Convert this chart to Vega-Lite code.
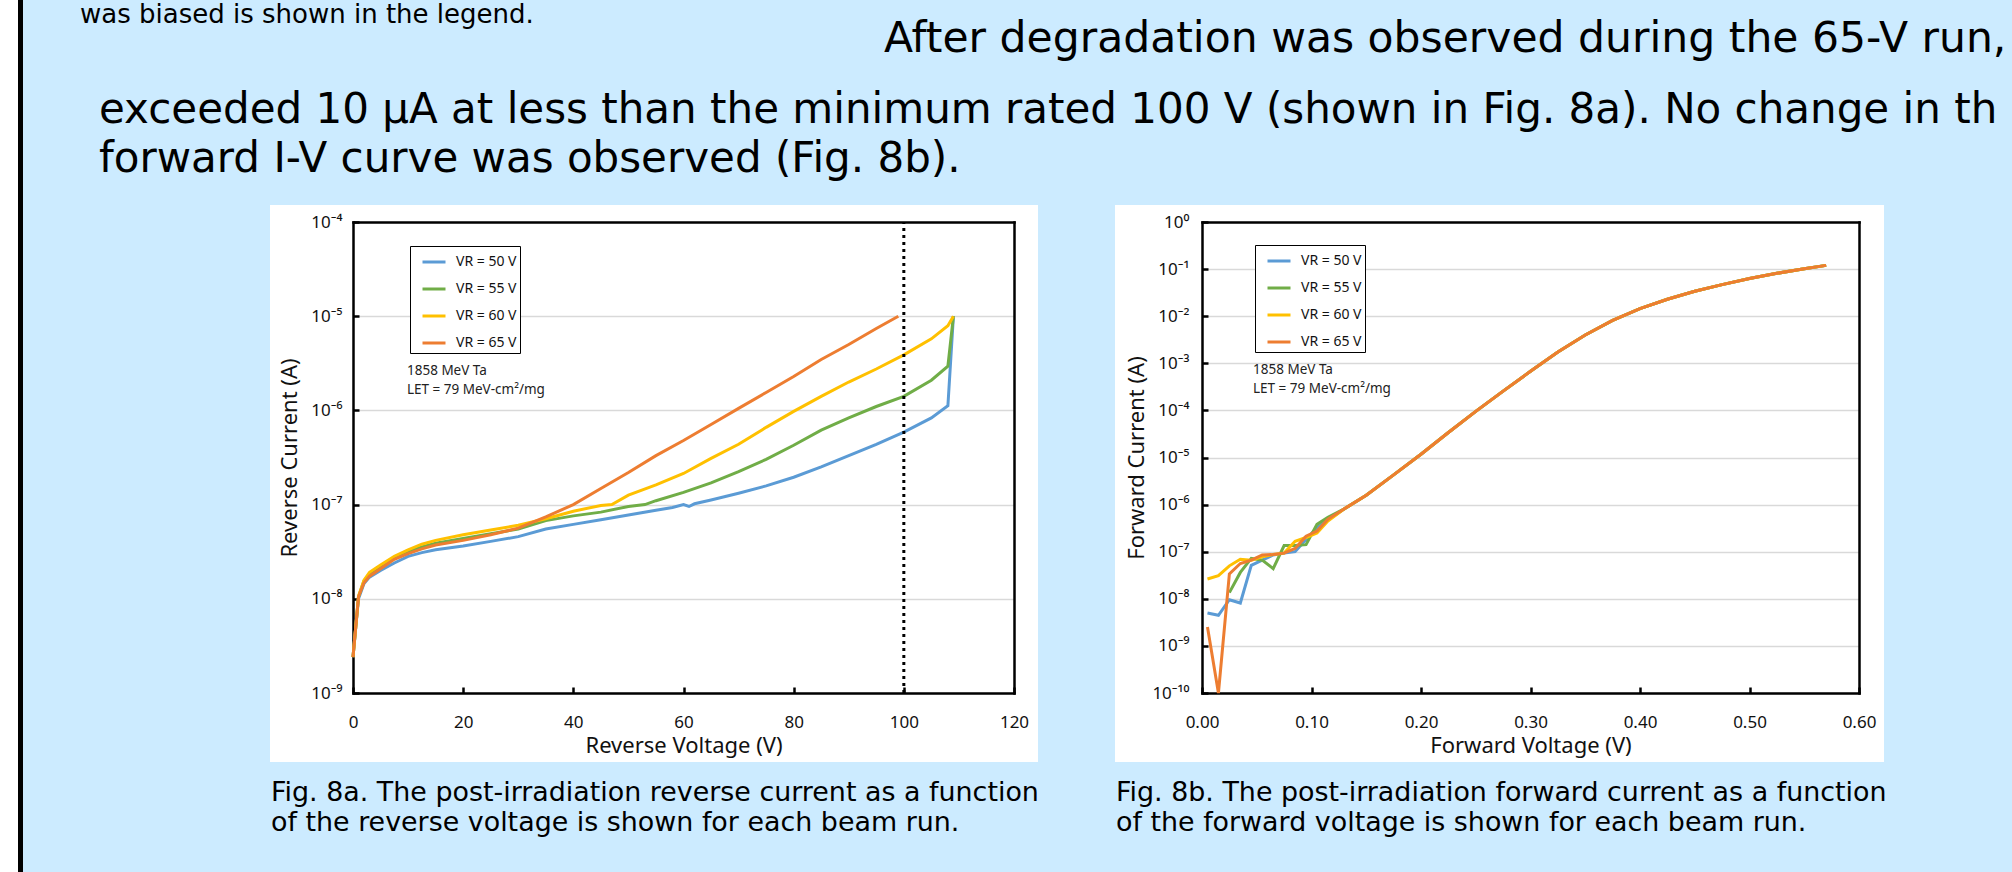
{
 "$schema": "https://vega.github.io/schema/vega-lite/v6.json",
 "padding": 0,
 "background": "#CCEBFF",
 "spacing": 0,
 "bounds": "flush",
 "resolve": {"scale": {"color": "independent"}, "legend": {"color": "independent"}},
 "config": {"view": {"stroke": null}},
 "datasets": {
  "rev": [
   {"s":"50","v":0,"i":2.4e-9},{"s":"50","v":0.5,"i":5.0e-9},{"s":"50","v":1,"i":1.0e-8},{"s":"50","v":2,"i":1.45e-8},{"s":"50","v":3,"i":1.7e-8},{"s":"50","v":5,"i":2.0e-8},{"s":"50","v":7.5,"i":2.4e-8},{"s":"50","v":10,"i":2.82e-8},{"s":"50","v":12.5,"i":3.09e-8},{"s":"50","v":15,"i":3.31e-8},{"s":"50","v":20,"i":3.63e-8},{"s":"50","v":25,"i":4.07e-8},{"s":"50","v":30,"i":4.57e-8},{"s":"50","v":35,"i":5.5e-8},{"s":"50","v":40,"i":6.17e-8},{"s":"50","v":45,"i":6.92e-8},{"s":"50","v":50,"i":7.76e-8},{"s":"50","v":55,"i":8.71e-8},{"s":"50","v":58,"i":9.33e-8},{"s":"50","v":60,"i":1.0e-7},{"s":"50","v":61,"i":9.55e-8},{"s":"50","v":62,"i":1.02e-7},{"s":"50","v":65,"i":1.12e-7},{"s":"50","v":70,"i":1.32e-7},{"s":"50","v":75,"i":1.58e-7},{"s":"50","v":80,"i":1.95e-7},{"s":"50","v":85,"i":2.51e-7},{"s":"50","v":90,"i":3.31e-7},{"s":"50","v":95,"i":4.37e-7},{"s":"50","v":100,"i":5.89e-7},{"s":"50","v":105,"i":8.32e-7},{"s":"50","v":108,"i":1.12e-6},{"s":"50","v":109,"i":1.0e-5},
   {"s":"55","v":0,"i":2.4e-9},{"s":"55","v":0.5,"i":5.0e-9},{"s":"55","v":1,"i":1.05e-8},{"s":"55","v":2,"i":1.55e-8},{"s":"55","v":3,"i":1.82e-8},{"s":"55","v":5,"i":2.19e-8},{"s":"55","v":7.5,"i":2.69e-8},{"s":"55","v":10,"i":3.16e-8},{"s":"55","v":12.5,"i":3.55e-8},{"s":"55","v":15,"i":3.89e-8},{"s":"55","v":20,"i":4.37e-8},{"s":"55","v":25,"i":4.9e-8},{"s":"55","v":30,"i":5.5e-8},{"s":"55","v":35,"i":6.76e-8},{"s":"55","v":40,"i":7.59e-8},{"s":"55","v":45,"i":8.32e-8},{"s":"55","v":50,"i":9.55e-8},{"s":"55","v":53,"i":1.0e-7},{"s":"55","v":55,"i":1.1e-7},{"s":"55","v":60,"i":1.35e-7},{"s":"55","v":65,"i":1.7e-7},{"s":"55","v":70,"i":2.24e-7},{"s":"55","v":75,"i":3.02e-7},{"s":"55","v":80,"i":4.27e-7},{"s":"55","v":85,"i":6.17e-7},{"s":"55","v":90,"i":8.32e-7},{"s":"55","v":95,"i":1.1e-6},{"s":"55","v":100,"i":1.41e-6},{"s":"55","v":105,"i":2.09e-6},{"s":"55","v":108,"i":2.95e-6},{"s":"55","v":109,"i":1.0e-5},
   {"s":"60","v":0,"i":2.4e-9},{"s":"60","v":0.5,"i":5.0e-9},{"s":"60","v":1,"i":1.07e-8},{"s":"60","v":2,"i":1.58e-8},{"s":"60","v":3,"i":1.91e-8},{"s":"60","v":5,"i":2.29e-8},{"s":"60","v":7.5,"i":2.82e-8},{"s":"60","v":10,"i":3.31e-8},{"s":"60","v":12.5,"i":3.8e-8},{"s":"60","v":15,"i":4.17e-8},{"s":"60","v":20,"i":4.79e-8},{"s":"60","v":25,"i":5.37e-8},{"s":"60","v":30,"i":6.03e-8},{"s":"60","v":35,"i":7.08e-8},{"s":"60","v":40,"i":8.51e-8},{"s":"60","v":45,"i":9.8e-8},{"s":"60","v":47,"i":1.0e-7},{"s":"60","v":50,"i":1.26e-7},{"s":"60","v":55,"i":1.62e-7},{"s":"60","v":60,"i":2.14e-7},{"s":"60","v":65,"i":3.09e-7},{"s":"60","v":70,"i":4.37e-7},{"s":"60","v":75,"i":6.61e-7},{"s":"60","v":80,"i":9.77e-7},{"s":"60","v":85,"i":1.41e-6},{"s":"60","v":90,"i":2.0e-6},{"s":"60","v":95,"i":2.75e-6},{"s":"60","v":100,"i":3.89e-6},{"s":"60","v":105,"i":5.75e-6},{"s":"60","v":108,"i":7.94e-6},{"s":"60","v":109,"i":1.0e-5},
   {"s":"65","v":0,"i":2.4e-9},{"s":"65","v":0.5,"i":5.0e-9},{"s":"65","v":1,"i":1.05e-8},{"s":"65","v":2,"i":1.48e-8},{"s":"65","v":3,"i":1.74e-8},{"s":"65","v":5,"i":2.09e-8},{"s":"65","v":7.5,"i":2.63e-8},{"s":"65","v":10,"i":3.02e-8},{"s":"65","v":12.5,"i":3.39e-8},{"s":"65","v":15,"i":3.72e-8},{"s":"65","v":20,"i":4.17e-8},{"s":"65","v":25,"i":4.79e-8},{"s":"65","v":30,"i":5.62e-8},{"s":"65","v":35,"i":7.41e-8},{"s":"65","v":40,"i":1.0e-7},{"s":"65","v":45,"i":1.48e-7},{"s":"65","v":50,"i":2.19e-7},{"s":"65","v":55,"i":3.31e-7},{"s":"65","v":60,"i":4.79e-7},{"s":"65","v":65,"i":7.08e-7},{"s":"65","v":70,"i":1.05e-6},{"s":"65","v":75,"i":1.55e-6},{"s":"65","v":80,"i":2.29e-6},{"s":"65","v":85,"i":3.47e-6},{"s":"65","v":90,"i":5.01e-6},{"s":"65","v":95,"i":7.41e-6},{"s":"65","v":99,"i":1.0e-5}
  ],
  "fwd": [
   {"s":"50","v":0.005,"i":5.0e-9},{"s":"50","v":0.015,"i":4.47e-9},{"s":"50","v":0.025,"i":9.55e-9},{"s":"50","v":0.035,"i":8.13e-9},{"s":"50","v":0.045,"i":5.13e-8},{"s":"50","v":0.055,"i":6.61e-8},{"s":"50","v":0.065,"i":8.51e-8},{"s":"50","v":0.075,"i":9.33e-8},{"s":"50","v":0.085,"i":1.0e-7},{"s":"50","v":0.095,"i":1.82e-7},{"s":"50","v":0.105,"i":3.24e-7},{"s":"50","v":0.115,"i":4.68e-7},
   {"s":"50","v":0.13,"i":8.13e-7},{"s":"50","v":0.15,"i":1.58e-6},{"s":"50","v":0.175,"i":4.27e-6},{"s":"50","v":0.2,"i":1.17e-5},{"s":"50","v":0.225,"i":3.39e-5},{"s":"50","v":0.25,"i":9.55e-5},{"s":"50","v":0.275,"i":2.57e-4},{"s":"50","v":0.3,"i":6.76e-4},{"s":"50","v":0.325,"i":1.74e-3},{"s":"50","v":0.35,"i":3.98e-3},{"s":"50","v":0.375,"i":8.13e-3},{"s":"50","v":0.4,"i":1.45e-2},{"s":"50","v":0.425,"i":2.29e-2},{"s":"50","v":0.45,"i":3.39e-2},{"s":"50","v":0.475,"i":4.68e-2},{"s":"50","v":0.5,"i":6.31e-2},{"s":"50","v":0.525,"i":8.13e-2},{"s":"50","v":0.55,"i":0.102},{"s":"50","v":0.57,"i":0.12},
   {"s":"55","v":0.025,"i":1.35e-8},{"s":"55","v":0.035,"i":3.63e-8},{"s":"55","v":0.045,"i":7.24e-8},{"s":"55","v":0.055,"i":6.61e-8},{"s":"55","v":0.065,"i":4.37e-8},{"s":"55","v":0.075,"i":1.35e-7},{"s":"55","v":0.085,"i":1.35e-7},{"s":"55","v":0.095,"i":1.41e-7},{"s":"55","v":0.105,"i":3.8e-7},{"s":"55","v":0.115,"i":5.37e-7},
   {"s":"55","v":0.13,"i":8.13e-7},{"s":"55","v":0.15,"i":1.58e-6},{"s":"55","v":0.175,"i":4.27e-6},{"s":"55","v":0.2,"i":1.17e-5},{"s":"55","v":0.225,"i":3.39e-5},{"s":"55","v":0.25,"i":9.55e-5},{"s":"55","v":0.275,"i":2.57e-4},{"s":"55","v":0.3,"i":6.76e-4},{"s":"55","v":0.325,"i":1.74e-3},{"s":"55","v":0.35,"i":3.98e-3},{"s":"55","v":0.375,"i":8.13e-3},{"s":"55","v":0.4,"i":1.45e-2},{"s":"55","v":0.425,"i":2.29e-2},{"s":"55","v":0.45,"i":3.39e-2},{"s":"55","v":0.475,"i":4.68e-2},{"s":"55","v":0.5,"i":6.31e-2},{"s":"55","v":0.525,"i":8.13e-2},{"s":"55","v":0.55,"i":0.102},{"s":"55","v":0.57,"i":0.12},
   {"s":"60","v":0.005,"i":2.63e-8},{"s":"60","v":0.015,"i":3.09e-8},{"s":"60","v":0.025,"i":5.01e-8},{"s":"60","v":0.035,"i":6.92e-8},{"s":"60","v":0.045,"i":6.61e-8},{"s":"60","v":0.055,"i":7.76e-8},{"s":"60","v":0.065,"i":8.71e-8},{"s":"60","v":0.075,"i":9.33e-8},{"s":"60","v":0.085,"i":1.66e-7},{"s":"60","v":0.095,"i":2.0e-7},{"s":"60","v":0.105,"i":2.51e-7},{"s":"60","v":0.115,"i":4.47e-7},
   {"s":"60","v":0.13,"i":8.13e-7},{"s":"60","v":0.15,"i":1.58e-6},{"s":"60","v":0.175,"i":4.27e-6},{"s":"60","v":0.2,"i":1.17e-5},{"s":"60","v":0.225,"i":3.39e-5},{"s":"60","v":0.25,"i":9.55e-5},{"s":"60","v":0.275,"i":2.57e-4},{"s":"60","v":0.3,"i":6.76e-4},{"s":"60","v":0.325,"i":1.74e-3},{"s":"60","v":0.35,"i":3.98e-3},{"s":"60","v":0.375,"i":8.13e-3},{"s":"60","v":0.4,"i":1.45e-2},{"s":"60","v":0.425,"i":2.29e-2},{"s":"60","v":0.45,"i":3.39e-2},{"s":"60","v":0.475,"i":4.68e-2},{"s":"60","v":0.5,"i":6.31e-2},{"s":"60","v":0.525,"i":8.13e-2},{"s":"60","v":0.55,"i":0.102},{"s":"60","v":0.57,"i":0.12},
   {"s":"65","v":0.005,"i":2.51e-9},{"s":"65","v":0.015,"i":1.0e-10},{"s":"65","v":0.025,"i":3.39e-8},{"s":"65","v":0.035,"i":5.62e-8},{"s":"65","v":0.045,"i":6.61e-8},{"s":"65","v":0.055,"i":8.51e-8},{"s":"65","v":0.065,"i":8.71e-8},{"s":"65","v":0.075,"i":9.33e-8},{"s":"65","v":0.085,"i":1.17e-7},{"s":"65","v":0.095,"i":2.14e-7},{"s":"65","v":0.105,"i":2.75e-7},{"s":"65","v":0.115,"i":4.9e-7},
   {"s":"65","v":0.13,"i":8.13e-7},{"s":"65","v":0.15,"i":1.58e-6},{"s":"65","v":0.175,"i":4.27e-6},{"s":"65","v":0.2,"i":1.17e-5},{"s":"65","v":0.225,"i":3.39e-5},{"s":"65","v":0.25,"i":9.55e-5},{"s":"65","v":0.275,"i":2.57e-4},{"s":"65","v":0.3,"i":6.76e-4},{"s":"65","v":0.325,"i":1.74e-3},{"s":"65","v":0.35,"i":3.98e-3},{"s":"65","v":0.375,"i":8.13e-3},{"s":"65","v":0.4,"i":1.45e-2},{"s":"65","v":0.425,"i":2.29e-2},{"s":"65","v":0.45,"i":3.39e-2},{"s":"65","v":0.475,"i":4.68e-2},{"s":"65","v":0.5,"i":6.31e-2},{"s":"65","v":0.525,"i":8.13e-2},{"s":"65","v":0.55,"i":0.102},{"s":"65","v":0.57,"i":0.12}
  ]
 },
 "hconcat": [
  {
   "width": 18, "height": 872,
   "view": {"fill": "#ffffff"},
   "data": {"values": []},
   "mark": "point",
   "title": {"text": "was biased is shown in the legend.", "orient": "bottom", "anchor": "start", "frame": "group", "baseline": "alphabetic", "offset": -849, "dx": 80, "font": "DejaVu Sans", "fontSize": 26, "fontWeight": "normal", "color": "#000000"}
  },
  {
   "width": 5, "height": 872,
   "view": {"fill": "#000000"},
   "data": {"values": []},
   "mark": "point",
   "title": {"text": ["exceeded 10 µA at less than the minimum rated 100 V (shown in Fig. 8a). No change in th", "forward I-V curve was observed (Fig. 8b)."], "orient": "bottom", "anchor": "start", "frame": "group", "baseline": "alphabetic", "offset": -749, "dx": 81, "lineHeight": 49, "font": "DejaVu Sans", "fontSize": 42, "fontWeight": "normal", "color": "#000000"}
  },
  {
   "spacing": 0,
   "bounds": "flush",
   "resolve": {"scale": {"color": "independent"}, "legend": {"color": "independent"}},
   "vconcat": [
    {
     "width": 1989, "height": 205,
     "data": {"values": []},
     "mark": "point",
     "title": {"text": "After degradation was observed during the 65-V run,", "orient": "bottom", "anchor": "start", "frame": "group", "baseline": "alphabetic", "offset": -153, "dx": 861, "font": "DejaVu Sans", "fontSize": 42.5, "fontWeight": "normal", "color": "#000000"}
    },
    {
     "spacing": 0,
     "bounds": "flush",
     "resolve": {"scale": {"color": "independent"}, "legend": {"color": "independent"}},
     "hconcat": [
      {"width": 247, "height": 557, "data": {"values": []}, "mark": "point"},
      {
       "width": 768, "height": 557,
       "view": {"fill": "#ffffff"},
       "title": {"text": ["Fig. 8a. The post-irradiation reverse current as a function", "of the reverse voltage is shown for each beam run."], "orient": "bottom", "anchor": "start", "frame": "group", "baseline": "alphabetic", "offset": 39, "dx": 1, "lineHeight": 30, "font": "DejaVu Sans", "fontSize": 26.9, "fontWeight": "normal", "color": "#000000"},
       "resolve": {"axis": {"x": "independent", "y": "independent"}},
       "layer": [
        {
         "data": {"name": "rev"},
         "mark": {"type": "line", "strokeWidth": 3},
         "encoding": {
          "x": {"field": "v", "type": "quantitative",
                "scale": {"domain": [0, 120], "range": [83, 744], "nice": false, "zero": false},
                "axis": {"orient": "bottom", "offset": -69, "values": [0,20,40,60,80,100,120], "grid": false, "domainColor": "#000000", "domainWidth": 2.5, "domainCap": "square", "tickColor": "#000000", "tickWidth": 2.5, "tickSize": -6, "labelPadding": 35, "labelBaseline": "middle", "labelFlush": false, "labelOverlap": false, "labelFont": "Noto Sans", "labelFontSize": 17, "labelColor": "#111111", "title": "Reverse Voltage (V)", "titleFont": "Noto Sans", "titleFontSize": 22, "titleFontWeight": "normal", "titleColor": "#111111", "titleX": 413.5, "titleY": 52, "titleBaseline": "middle", "titleAlign": "center"}},
          "y": {"field": "i", "type": "quantitative",
                "scale": {"type": "log", "domain": [1e-9, 1e-4], "range": [488, 17], "nice": false},
                "axis": {"orient": "left", "offset": -83, "values": [1e-9,1e-8,1e-7,1e-6,1e-5,1e-4], "grid": true, "gridColor": "#d9d9d9", "gridWidth": 1.3, "domainColor": "#000000", "domainWidth": 2.5, "domainCap": "square", "tickColor": "#000000", "tickWidth": 2.5, "tickSize": -6, "labelPadding": 17, "labelFlush": false, "labelOverlap": false, "labelExpr": "'10' + ['⁰','⁻¹','⁻²','⁻³','⁻⁴','⁻⁵','⁻⁶','⁻⁷','⁻⁸','⁻⁹','⁻¹⁰'][round(-log(datum.value)/LN10)]", "labelFont": "Noto Sans", "labelFontSize": 17, "labelColor": "#111111", "title": "Reverse Current (A)", "titleFont": "Noto Sans", "titleFontSize": 22, "titleFontWeight": "normal", "titleColor": "#111111", "titleX": -64, "titleY": 252.5, "titleBaseline": "middle", "titleAlign": "center", "titleAngle": 270}},
          "color": {"field": "s", "type": "nominal",
                    "scale": {"domain": ["50","55","60","65"], "range": ["#5B9BD5","#70AD47","#FFC000","#ED7D31"]},
                    "legend": {"orient": "none", "legendX": 140, "legendY": 41, "title": null, "strokeColor": "#000000", "fillColor": "#ffffff", "padding": 3, "rowPadding": 7, "symbolOffset": 8, "labelOffset": 9, "labelFont": "Noto Sans", "labelFontSize": 14, "labelColor": "#111111", "symbolType": "stroke", "symbolSize": 529, "symbolStrokeWidth": 3, "labelExpr": "'VR = ' + datum.label + ' V'"}}
         }
        },
        {
         "data": {"values": [{"rated": 100}]},
         "mark": {"type": "rule", "color": "#000000", "strokeWidth": 3, "strokeDash": [3, 4]},
         "encoding": {
          "x": {"field": "rated", "type": "quantitative", "axis": null},
          "y": {"datum": 1e-9, "type": "quantitative", "axis": null},
          "y2": {"datum": 1e-4}
         }
        },
        {
         "data": {"values": [{"note": "1858 MeV Ta\nLET = 79 MeV-cm²/mg"}]},
         "mark": {"type": "text", "align": "left", "baseline": "middle", "lineBreak": "\n", "lineHeight": 19, "font": "Noto Sans", "fontSize": 13.5, "color": "#222222"},
         "encoding": {
          "text": {"field": "note"},
          "x": {"datum": 9.8, "type": "quantitative", "axis": {"orient": "top", "offset": -17, "labels": false, "ticks": false, "grid": false, "title": null, "domainColor": "#000000", "domainWidth": 2.5, "domainCap": "square"}},
          "y": {"datum": 2.62e-6, "type": "quantitative", "axis": {"orient": "right", "offset": -24, "labels": false, "ticks": false, "grid": false, "title": null, "domainColor": "#000000", "domainWidth": 2.5, "domainCap": "square"}}
         }
        }
       ]
      },
      {"width": 77, "height": 557, "data": {"values": []}, "mark": "point"},
      {
       "width": 769, "height": 557,
       "view": {"fill": "#ffffff"},
       "title": {"text": ["Fig. 8b. The post-irradiation forward current as a function", "of the forward voltage is shown for each beam run."], "orient": "bottom", "anchor": "start", "frame": "group", "baseline": "alphabetic", "offset": 39, "dx": 1, "lineHeight": 30, "font": "DejaVu Sans", "fontSize": 26.9, "fontWeight": "normal", "color": "#000000"},
       "resolve": {"axis": {"x": "independent", "y": "independent"}},
       "layer": [
        {
         "data": {"name": "fwd"},
         "mark": {"type": "line", "strokeWidth": 3},
         "encoding": {
          "x": {"field": "v", "type": "quantitative",
                "scale": {"domain": [0, 0.6], "range": [87, 744], "nice": false, "zero": false},
                "axis": {"orient": "bottom", "offset": -69, "values": [0,0.1,0.2,0.3,0.4,0.5,0.6], "format": ".2f", "grid": false, "domainColor": "#000000", "domainWidth": 2.5, "domainCap": "square", "tickColor": "#000000", "tickWidth": 2.5, "tickSize": -6, "labelPadding": 35, "labelBaseline": "middle", "labelFlush": false, "labelOverlap": false, "labelFont": "Noto Sans", "labelFontSize": 17, "labelColor": "#111111", "title": "Forward Voltage (V)", "titleFont": "Noto Sans", "titleFontSize": 22, "titleFontWeight": "normal", "titleColor": "#111111", "titleX": 415.5, "titleY": 52, "titleBaseline": "middle", "titleAlign": "center"}},
          "y": {"field": "i", "type": "quantitative",
                "scale": {"type": "log", "domain": [1e-10, 1], "range": [488, 17], "nice": false},
                "axis": {"orient": "left", "offset": -87, "values": [1e-10,1e-9,1e-8,1e-7,1e-6,1e-5,1e-4,1e-3,1e-2,1e-1,1], "grid": true, "gridColor": "#d9d9d9", "gridWidth": 1.3, "domainColor": "#000000", "domainWidth": 2.5, "domainCap": "square", "tickColor": "#000000", "tickWidth": 2.5, "tickSize": -6, "labelPadding": 19, "labelFlush": false, "labelOverlap": false, "labelExpr": "'10' + ['⁰','⁻¹','⁻²','⁻³','⁻⁴','⁻⁵','⁻⁶','⁻⁷','⁻⁸','⁻⁹','⁻¹⁰'][round(-log(datum.value)/LN10)]", "labelFont": "Noto Sans", "labelFontSize": 17, "labelColor": "#111111", "title": "Forward Current (A)", "titleFont": "Noto Sans", "titleFontSize": 22, "titleFontWeight": "normal", "titleColor": "#111111", "titleX": -66, "titleY": 252.5, "titleBaseline": "middle", "titleAlign": "center", "titleAngle": 270}},
          "color": {"field": "s", "type": "nominal",
                    "scale": {"domain": ["50","55","60","65"], "range": ["#5B9BD5","#70AD47","#FFC000","#ED7D31"]},
                    "legend": {"orient": "none", "legendX": 140, "legendY": 40, "title": null, "strokeColor": "#000000", "fillColor": "#ffffff", "padding": 3, "rowPadding": 7, "symbolOffset": 8, "labelOffset": 9, "labelFont": "Noto Sans", "labelFontSize": 14, "labelColor": "#111111", "symbolType": "stroke", "symbolSize": 529, "symbolStrokeWidth": 3, "labelExpr": "'VR = ' + datum.label + ' V'"}}
         }
        },
        {
         "data": {"values": [{"note": "1858 MeV Ta\nLET = 79 MeV-cm²/mg"}]},
         "mark": {"type": "text", "align": "left", "baseline": "middle", "lineBreak": "\n", "lineHeight": 19, "font": "Noto Sans", "fontSize": 13.5, "color": "#222222"},
         "encoding": {
          "text": {"field": "note"},
          "x": {"datum": 0.0466, "type": "quantitative", "axis": {"orient": "top", "offset": -17, "labels": false, "ticks": false, "grid": false, "title": null, "domainColor": "#000000", "domainWidth": 2.5, "domainCap": "square"}},
          "y": {"datum": 7.21e-4, "type": "quantitative", "axis": {"orient": "right", "offset": -25, "labels": false, "ticks": false, "grid": false, "title": null, "domainColor": "#000000", "domainWidth": 2.5, "domainCap": "square"}}
         }
        }
       ]
      }
     ]
    }
   ]
  }
 ]
}
